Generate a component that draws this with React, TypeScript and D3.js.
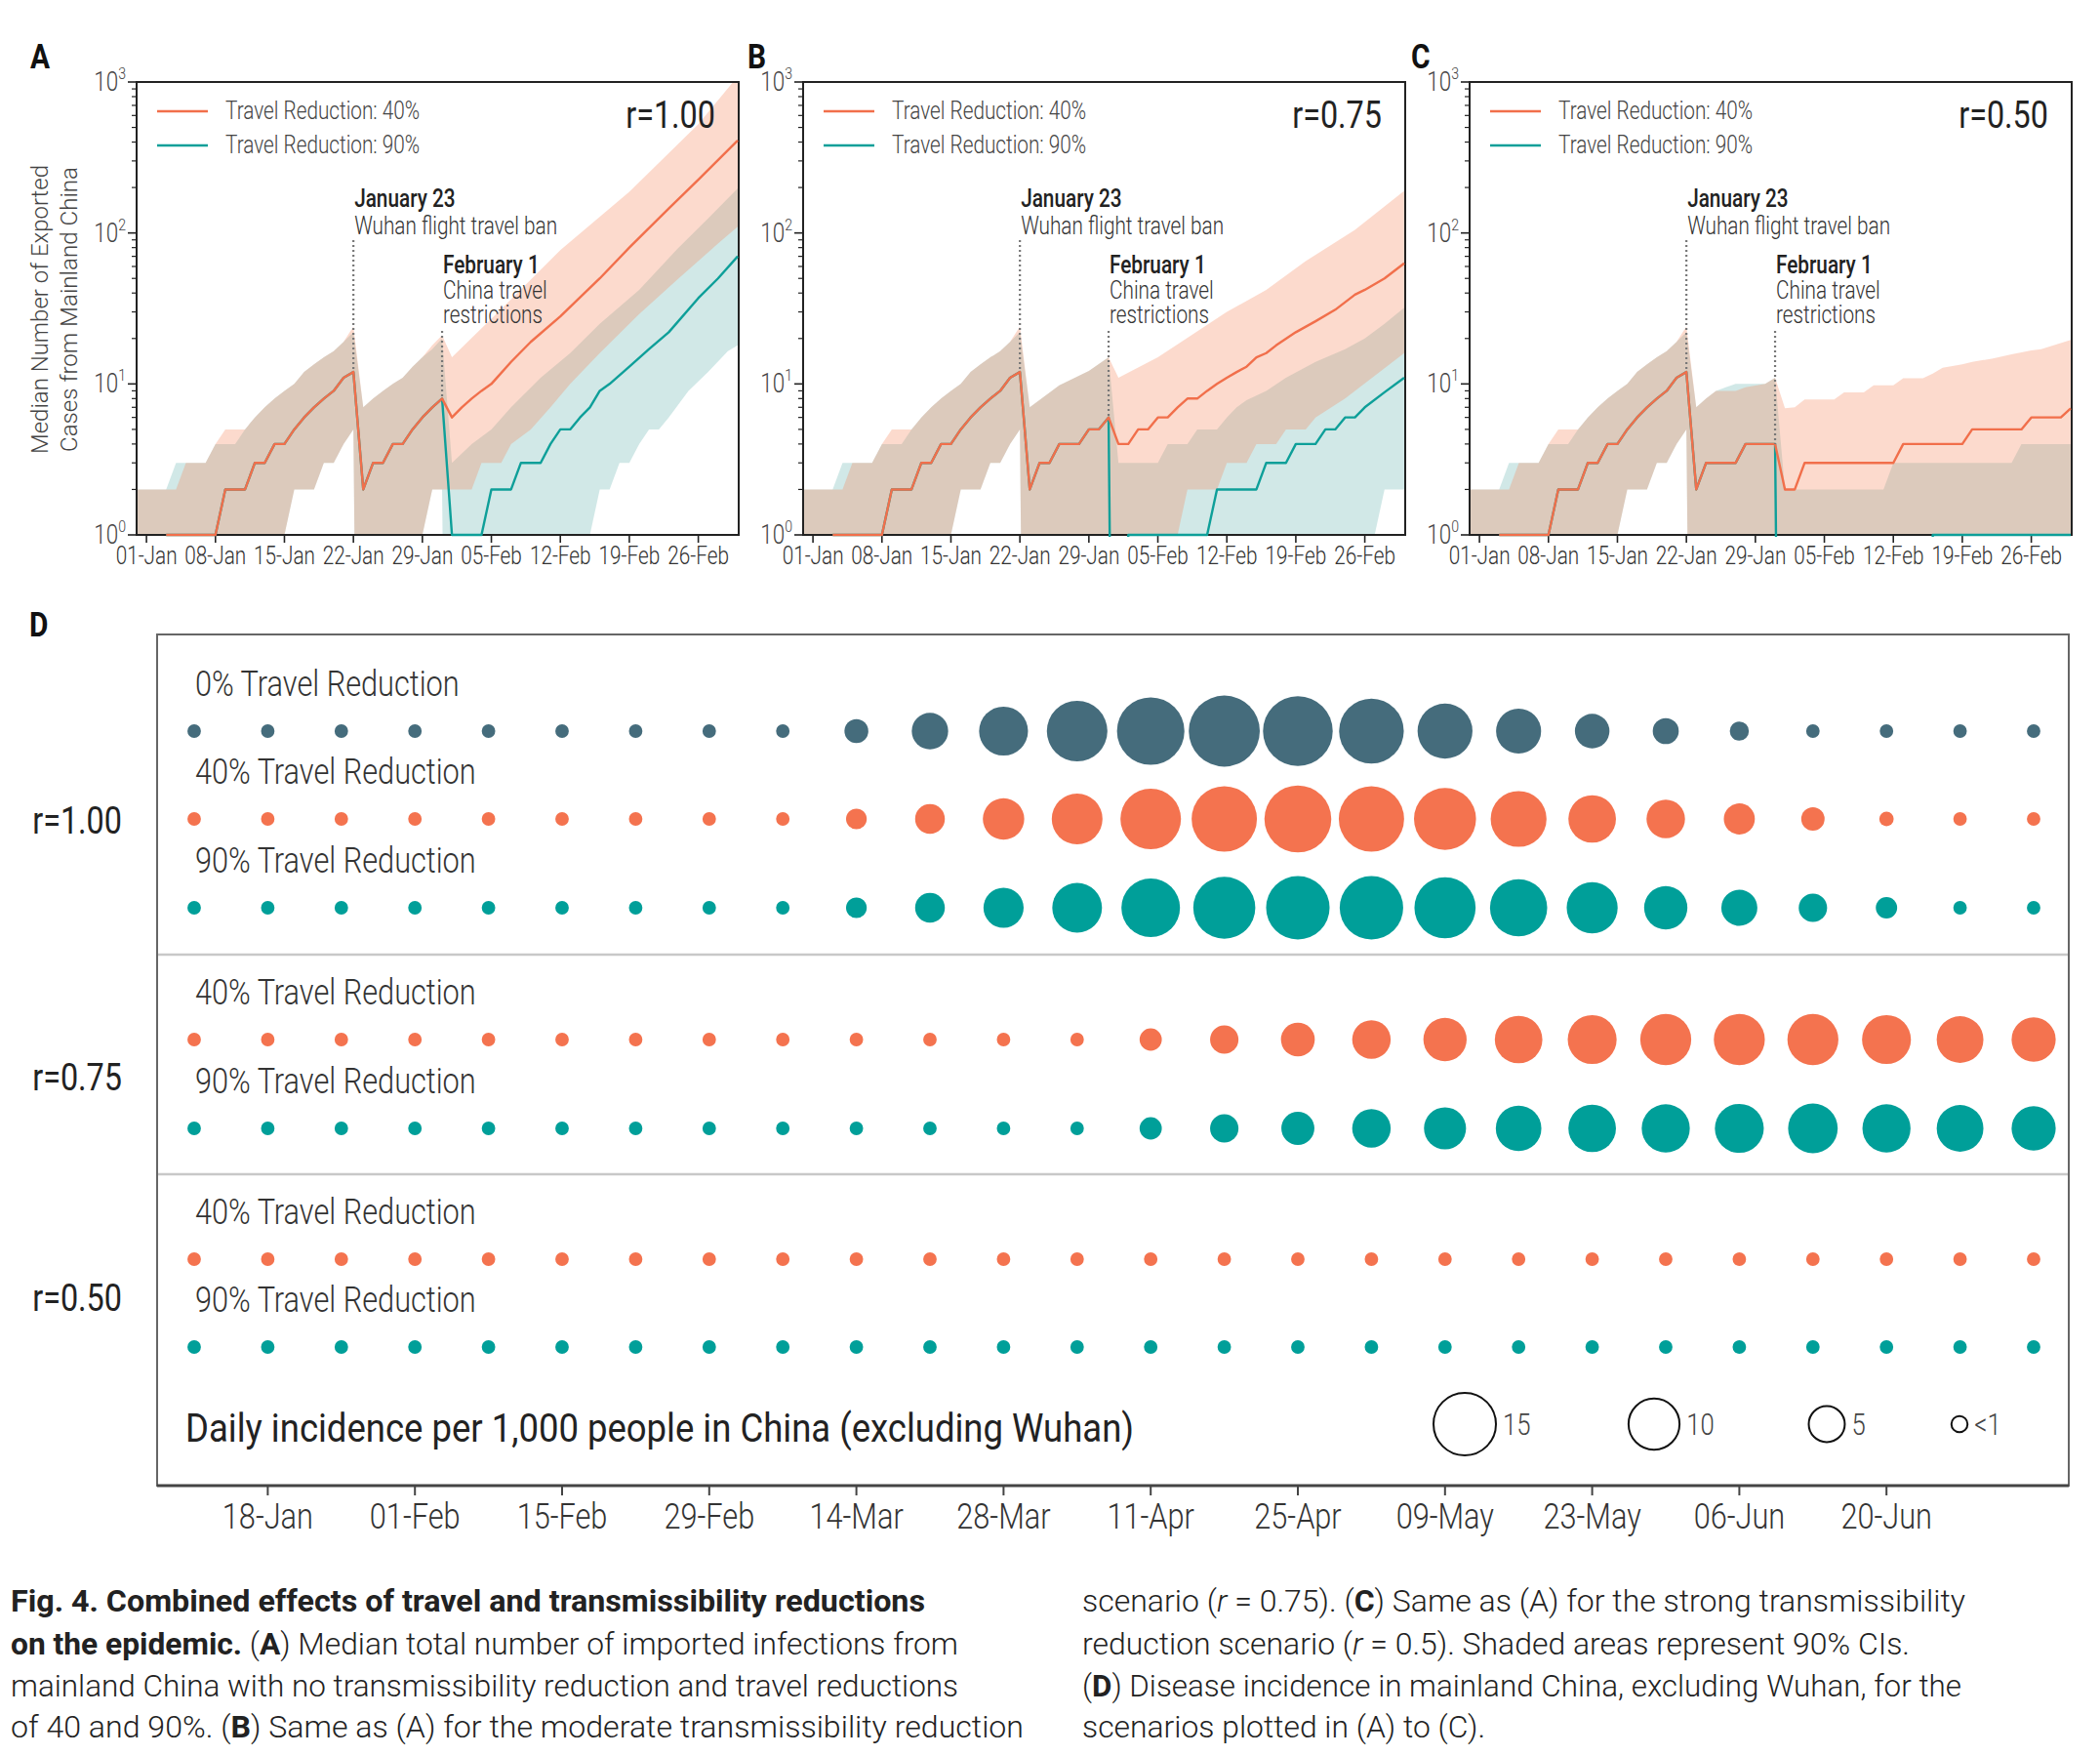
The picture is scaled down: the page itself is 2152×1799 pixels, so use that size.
import React from 'react';
import * as d3 from 'd3';

type Pt = [number, number]; // [day since 01-Jan, value]

// ---------- panels A-C: exported cases ----------
const dayTickDays = [0, 7, 14, 21, 28, 35, 42, 49, 56];
const dayTickLabels = ['01-Jan', '08-Jan', '15-Jan', '22-Jan', '29-Jan', '05-Feb', '12-Feb', '19-Feb', '26-Feb'];

// before the Jan 23 ban the scenarios are identical
const preBanMedian: Pt[] = [[2, 1], [7, 1], [8, 2], [10, 2], [11, 3], [12, 3], [13, 4], [14, 4], [15, 5], [16, 6], [17, 7], [18, 8], [19, 9], [20, 11], [21, 12]];
const preBanUpper40: Pt[] = [[-1, 2], [3, 2], [4, 3], [6, 3], [7, 4], [8, 5], [10, 5], [11, 6], [12, 7], [13, 8], [14, 9], [15, 10], [16, 12], [17, 13.5], [18, 15], [19, 16.5], [20, 19], [21, 24]];
const preBanUpper90: Pt[] = [[-1, 2], [2, 2], [3, 3], [6, 3], [7, 4], [9, 4], [10, 5], [11, 6], [12, 7], [13, 8], [14, 9], [15, 10], [16, 12], [17, 13.5], [18, 15], [19, 16.5], [20, 19], [21, 22]];
const preBanLower: Pt[] = [[-1, 0], [13, 0], [14, 1], [15, 2], [17, 2], [18, 3], [19, 3], [20, 4], [21, 5]];

// A: r = 1.00
const medianA40: Pt[] = [...preBanMedian, [22, 2], [23, 3], [24, 3], [25, 4], [26, 4], [27, 5], [28, 6], [29, 7], [30, 8], [31, 6], [32, 7], [33, 8], [34, 9], [35, 10], [37, 14], [39, 19], [42, 28], [46, 50], [49, 80], [53, 145], [56, 225], [60, 410]];
const medianA90: Pt[] = [...preBanMedian, [22, 2], [23, 3], [24, 3], [25, 4], [26, 4], [27, 5], [28, 6], [29, 7], [30, 8], [31, 1], [34, 1], [35, 2], [37, 2], [38, 3], [40, 3], [41, 4], [42, 5], [43, 5], [44, 6], [45, 7], [46, 9], [47, 10], [49, 13], [51, 17], [53, 22], [56, 37], [58, 50], [60, 70]];
const upperA40: Pt[] = [...preBanUpper40, [22, 7], [23, 8], [24, 9], [25, 10], [26, 11], [27, 13], [28, 15], [29, 18], [30, 21], [31, 15], [35, 27], [42, 77], [49, 187], [56, 525], [60, 1090]];
const upperA90: Pt[] = [...preBanUpper90, [22, 7], [23, 8], [24, 9], [25, 10], [26, 11], [27, 13], [28, 15], [29, 17], [30, 20], [31, 3], [33, 4], [35, 5], [37, 7], [40, 11], [43, 16], [46, 25], [50, 42], [54, 80], [57, 125], [60, 197]];
const lowerA40: Pt[] = [...preBanLower, [22, 0], [28, 1], [29, 2], [33, 2], [34, 3], [36, 3], [37, 4], [39, 5], [41, 7], [43, 10], [46, 16], [50, 29], [54, 50], [58, 85], [60, 110]];
const lowerA90: Pt[] = [...preBanLower, [22, 0], [28, 1], [29, 2], [30, 2], [31, 0], [44, 0], [45, 1], [46, 2], [47, 2], [48, 3], [49, 3], [50, 4], [51, 5], [52, 5], [53, 6], [55, 9], [57, 12], [59, 16.5], [60, 18]];

// B: r = 0.75
const medianB40: Pt[] = [...preBanMedian, [22, 2], [23, 3], [24, 3], [25, 4], [27, 4], [28, 5], [29, 5], [30, 6], [31, 4], [32, 4], [33, 5], [34, 5], [35, 6], [36, 6], [37, 7], [38, 8], [39, 8], [40, 9], [41, 10], [42, 11], [43, 12], [44, 13], [45, 15], [46, 16], [47, 18], [49, 22], [51, 26], [53, 31], [55, 39], [56, 42], [58, 50], [60, 63]];
const medianB90: Pt[] = [...preBanMedian, [22, 2], [23, 3], [24, 3], [25, 4], [27, 4], [28, 5], [29, 5], [30, 6], [31, 0], [32, 1], [40, 1], [41, 2], [45, 2], [46, 3], [48, 3], [49, 4], [51, 4], [52, 5], [53, 5], [54, 6], [55, 6], [56, 7], [58, 8.8], [60, 11]];
const upperB40: Pt[] = [...preBanUpper40, [22, 7], [25, 9.8], [28, 12.2], [30, 15], [31, 11], [35, 15], [37, 18.3], [42, 30], [46, 42], [50, 65], [55, 105], [60, 190]];
const upperB90: Pt[] = [...preBanUpper90, [22, 7], [25, 9.8], [28, 12.2], [30, 15], [31, 3], [35, 3], [36, 4], [38, 4], [39, 5], [41, 5], [42, 6], [43, 7], [44, 7.8], [46, 9], [48, 11], [51, 14], [54, 17], [56, 20], [58, 25], [60, 32]];
const lowerB40: Pt[] = [...preBanLower, [22, 0], [36, 0], [37, 1], [38, 2], [41, 2], [42, 3], [44, 3], [45, 4], [47, 4], [48, 5], [50, 5], [51, 6], [54, 8], [57, 11.3], [60, 16]];
const lowerB90: Pt[] = [...preBanLower, [22, 0], [56, 0], [57, 1], [58, 2], [60, 2]];

// C: r = 0.50
const medianC40: Pt[] = [...preBanMedian, [22, 2], [23, 3], [26, 3], [27, 4], [30, 4], [31, 2], [32, 2], [33, 3], [42, 3], [43, 4], [49, 4], [50, 5], [55, 5], [56, 6], [59, 6], [60, 6.9]];
const medianC90: Pt[] = [...preBanMedian, [22, 2], [23, 3], [26, 3], [27, 4], [30, 4], [31, 0], [45, 0], [46, 1], [60, 1]];
const upperC40: Pt[] = [...preBanUpper40, [22, 7], [23, 8], [24, 9], [26, 9], [27, 9.5], [29, 10], [30, 11], [31, 6.9], [32, 7], [33, 7.9], [36, 7.9], [37, 8.8], [39, 8.8], [40, 9.8], [42, 9.8], [43, 10.9], [45, 10.9], [46, 11.7], [47, 12.8], [49, 13.5], [50, 14], [52, 14.7], [54, 15.7], [56, 16.7], [57, 17], [60, 19.6]];
const upperC90: Pt[] = [...preBanUpper90, [22, 7], [23, 8], [24, 9], [25, 9.5], [26, 10], [29, 10], [30, 11], [31, 2], [41, 2], [42, 3], [54, 3], [55, 4], [60, 4]];
const lowerC40: Pt[] = [...preBanLower, [22, 0], [60, 0]];
const lowerC90: Pt[] = [...preBanLower, [22, 0], [60, 0]];

interface PanelData {
  letter: string;
  r: string;
  med40: Pt[]; med90: Pt[];
  lo40: Pt[]; hi40: Pt[];
  lo90: Pt[]; hi90: Pt[];
}

const panels: PanelData[] = [
  { letter: 'A', r: 'r=1.00', med40: medianA40, med90: medianA90, lo40: lowerA40, hi40: upperA40, lo90: lowerA90, hi90: upperA90 },
  { letter: 'B', r: 'r=0.75', med40: medianB40, med90: medianB90, lo40: lowerB40, hi40: upperB40, lo90: lowerB90, hi90: upperB90 },
  { letter: 'C', r: 'r=0.50', med40: medianC40, med90: medianC90, lo40: lowerC40, hi40: upperC40, lo90: lowerC90, hi90: upperC90 },
];

const legendLabels = ['Travel Reduction: 40%', 'Travel Reduction: 90%'];

// ---------- panel D: weekly incidence per 1,000 ----------
const weekLabels = ['11-Jan', '18-Jan', '25-Jan', '01-Feb', '08-Feb', '15-Feb', '22-Feb', '29-Feb', '07-Mar', '14-Mar', '21-Mar', '28-Mar', '04-Apr', '11-Apr', '18-Apr', '25-Apr', '02-May', '09-May', '16-May', '23-May', '30-May', '06-Jun', '13-Jun', '20-Jun', '27-Jun', '04-Jul'];
const dTickLabels = ['18-Jan', '01-Feb', '15-Feb', '29-Feb', '14-Mar', '28-Mar', '11-Apr', '25-Apr', '09-May', '23-May', '06-Jun', '20-Jun'];

const incR100T0 = [0.7, 0.7, 0.7, 0.7, 0.7, 0.7, 0.7, 0.7, 0.7, 2.2, 5.1, 9.2, 14.1, 17.5, 19.4, 18.7, 16.1, 11.6, 7.8, 4.6, 2.6, 1.4, 0.7, 0.7, 0.7, 0.7];
const incR100T40 = [0.7, 0.7, 0.7, 0.7, 0.7, 0.7, 0.7, 0.7, 0.7, 1.65, 3.4, 6.6, 9.9, 14.1, 16.4, 17.2, 16.4, 14.8, 12.0, 8.7, 5.7, 3.7, 2.1, 0.8, 0.7, 0.7];
const incR100T90 = [0.7, 0.7, 0.7, 0.7, 0.7, 0.7, 0.7, 0.7, 0.7, 1.65, 3.4, 6.2, 9.5, 13.2, 14.8, 15.5, 15.5, 14.4, 12.6, 10.0, 7.2, 5.0, 3.1, 1.75, 0.7, 0.7];
const incR075T40 = [0.7, 0.7, 0.7, 0.7, 0.7, 0.7, 0.7, 0.7, 0.7, 0.7, 0.7, 0.7, 0.7, 1.9, 3.1, 4.4, 5.7, 7.2, 8.7, 9.2, 10.0, 10.0, 10.0, 9.2, 8.4, 7.5];
const incR075T90 = [0.7, 0.7, 0.7, 0.7, 0.7, 0.7, 0.7, 0.7, 0.7, 0.7, 0.7, 0.7, 0.7, 1.9, 3.1, 4.2, 5.7, 6.8, 8.0, 8.7, 8.9, 9.2, 9.45, 8.9, 8.4, 7.5];
const incR050T40 = [0.7, 0.7, 0.7, 0.7, 0.7, 0.7, 0.7, 0.7, 0.7, 0.7, 0.7, 0.7, 0.7, 0.7, 0.7, 0.7, 0.7, 0.7, 0.7, 0.7, 0.7, 0.7, 0.7, 0.7, 0.7, 0.7];
const incR050T90 = [0.7, 0.7, 0.7, 0.7, 0.7, 0.7, 0.7, 0.7, 0.7, 0.7, 0.7, 0.7, 0.7, 0.7, 0.7, 0.7, 0.7, 0.7, 0.7, 0.7, 0.7, 0.7, 0.7, 0.7, 0.7, 0.7];

const sizeLegendValues = [15, 10, 5, 1];
const sizeLegendLabels = ['15', '10', '5', '<1'];

// ---------- styles / layout ----------
const W = 2152;
const H = 1799;
const COND = "Roboto, 'Liberation Sans', sans-serif"; // squeezed horizontally to look condensed
const SQ = 0.83;
const ORANGE = '#f16f4b';
const TEAL = '#0e9f99';
const SLATE = '#456c7c';
const DOT_ORANGE = '#f4734f';
const DOT_TEAL = '#009f99';

const PANEL = { top: 84, bottom: 548, width: 617, lefts: [140, 823, 1506], letterX: [31, 766, 1446] };

// condensed text: text squeezed around its anchor point
function CText(props: {
  x: number; y: number; size: number; anchor?: string; weight?: number | string; fill?: string;
  children: React.ReactNode;
}) {
  const { x, y, size, anchor = 'start', weight = 400, fill = '#222', children } = props;
  return (
    <text transform={`translate(${x},${y}) scale(${SQ},1)`} textAnchor={anchor} fontFamily={COND} fontSize={size} fontWeight={weight} fill={fill}>
      {children}
    </text>
  );
}

function CasesPanel({ panel, left, letterX }: { panel: PanelData; left: number; letterX: number }) {
  const { top, bottom, width } = PANEL;
  const x = d3.scaleLinear().domain([-1, 60.1]).range([left, left + width]);
  const y = d3.scaleLog().domain([1, 1000]).range([bottom, top]);
  const yv = (v: number) => y(Math.max(v, 1e-6));
  const line = d3.line<Pt>().x((d) => x(d[0])).y((d) => yv(d[1]));
  const band = (lo: Pt[], hi: Pt[]) => line([...hi, ...lo.slice().reverse()]) + 'Z';
  const valueAt = (s: Pt[], day: number) => (s.find((d) => d[0] === day) as Pt)[1];
  const clipId = `clip-${panel.letter}`;
  const clipLineId = `clipline-${panel.letter}`;
  const yTicks = y.ticks();
  const isMajor = (t: number) => Math.abs(Math.log10(t) - Math.round(Math.log10(t))) < 1e-9;

  const events = [
    { day: 21, title: 'January 23', lines: ['Wuhan flight travel ban'], titleY: 212, lineY: 240, dotTop: 246 },
    { day: 30, title: 'February 1', lines: ['China travel', 'restrictions'], titleY: 280, lineY: 306, dotTop: 339 },
  ];

  return (
    <g>
      <defs>
        <clipPath id={clipId}>
          <rect x={left} y={top} width={width} height={bottom - top} />
        </clipPath>
        <clipPath id={clipLineId}>
          <rect x={left} y={top} width={width} height={bottom - top + 2} />
        </clipPath>
      </defs>

      <g clipPath={`url(#${clipId})`}>
        <path d={band(panel.lo90, panel.hi90)} fill="#3a9a96" fillOpacity={0.23} />
        <path d={band(panel.lo40, panel.hi40)} fill="#f5845a" fillOpacity={0.3} />
      </g>

      <rect x={left} y={top} width={width} height={bottom - top} fill="none" stroke="#222" strokeWidth={2} />

      {/* y axis */}
      {yTicks.map((t, i) => (
        <line key={i} x1={left} x2={left - (isMajor(t) ? 9 : 5)} y1={y(t)} y2={y(t)} stroke="#222" strokeWidth={isMajor(t) ? 1.6 : 1.2} />
      ))}
      {yTicks.filter(isMajor).map((t, i) => (
        <CText key={i} x={left - 11} y={y(t) + 9} size={27} anchor="end" weight={300} fill="#444">
          10<tspan dy={-12} fontSize={17}>{Math.round(Math.log10(t))}</tspan>
        </CText>
      ))}

      {/* x axis */}
      {dayTickDays.map((d, i) => (
        <g key={i}>
          <line x1={x(d)} x2={x(d)} y1={bottom} y2={bottom + 8} stroke="#222" strokeWidth={1.6} />
          <CText x={x(d)} y={bottom + 30} size={25} anchor="middle" weight={300} fill="#333">
            {dayTickLabels[i]}
          </CText>
        </g>
      ))}

      {/* medians */}
      <g clipPath={`url(#${clipLineId})`} fill="none" strokeWidth={2.4} strokeLinejoin="round">
        <path d={line(panel.med90) as string} stroke={TEAL} />
        <path d={line(panel.med40) as string} stroke={ORANGE} />
      </g>

      {/* event annotations */}
      {events.map((e, i) => (
        <g key={i}>
          <line x1={x(e.day)} x2={x(e.day)} y1={e.dotTop} y2={yv(valueAt(panel.med40, e.day))} stroke="#777" strokeWidth={2.2} strokeDasharray="2 3" />
          <CText x={x(e.day) + 1} y={e.titleY} size={25} weight={500} fill="#222">{e.title}</CText>
          {e.lines.map((l, j) => (
            <CText key={j} x={x(e.day) + 1} y={e.lineY + j * 25} size={25} weight={300} fill="#333">{l}</CText>
          ))}
        </g>
      ))}

      {/* legend */}
      {legendLabels.map((l, i) => (
        <g key={i}>
          <line x1={left + 21} x2={left + 73} y1={114 + i * 35} y2={114 + i * 35} stroke={i === 0 ? ORANGE : TEAL} strokeWidth={2.4} />
          <CText x={left + 91} y={122 + i * 35} size={25} weight={300} fill="#444">{l}</CText>
        </g>
      ))}
      <CText x={left + width - 24} y={131} size={39} anchor="end" weight={400} fill="#222">{panel.r}</CText>

      <CText x={letterX} y={70} size={36} weight={700} fill="#111">{panel.letter}</CText>
    </g>
  );
}

function IncidencePanel() {
  const frame = { left: 161, right: 2120, top: 650, bottom: 1522 };
  const x = d3.scalePoint<string>().domain(weekLabels).range([199, 2084]);
  const r = d3.scaleSqrt().domain([0, 15]).range([0, 32]);

  const rows = [
    { label: '0% Travel Reduction', values: incR100T0, color: SLATE, y: 749 },
    { label: '40% Travel Reduction', values: incR100T40, color: DOT_ORANGE, y: 839 },
    { label: '90% Travel Reduction', values: incR100T90, color: DOT_TEAL, y: 930 },
    { label: '40% Travel Reduction', values: incR075T40, color: DOT_ORANGE, y: 1065 },
    { label: '90% Travel Reduction', values: incR075T90, color: DOT_TEAL, y: 1156 },
    { label: '40% Travel Reduction', values: incR050T40, color: DOT_ORANGE, y: 1290 },
    { label: '90% Travel Reduction', values: incR050T90, color: DOT_TEAL, y: 1380 },
  ];
  const groups = [
    { label: 'r=1.00', y: 854 },
    { label: 'r=0.75', y: 1117 },
    { label: 'r=0.50', y: 1343 },
  ];
  const separators = [978, 1203];
  const legendCx = [1501, 1695, 1872, 2008];
  const legendCy = 1459;

  return (
    <g>
      <CText x={30} y={652} size={36} weight={700} fill="#111">D</CText>
      <rect x={frame.left} y={frame.top} width={frame.right - frame.left} height={frame.bottom - frame.top} fill="none" stroke="#666" strokeWidth={2} />
      {separators.map((s, i) => (
        <line key={i} x1={frame.left + 1} x2={frame.right - 1} y1={s} y2={s} stroke="#c8c8c8" strokeWidth={2.5} />
      ))}
      <line x1={frame.left} x2={frame.right} y1={frame.bottom} y2={frame.bottom} stroke="#444" strokeWidth={3} />

      {groups.map((g, i) => (
        <CText key={i} x={125} y={g.y} size={39} anchor="end" weight={400} fill="#222">{g.label}</CText>
      ))}

      {rows.map((row, i) => (
        <g key={i}>
          <CText x={200} y={row.y - 36} size={37} weight={300} fill="#333">{row.label}</CText>
          {row.values.map((v, j) => (
            <circle key={j} cx={x(weekLabels[j]) as number} cy={row.y} r={r(v)} fill={row.color} />
          ))}
        </g>
      ))}

      <text x={190} y={1477} fontFamily={COND} fontSize={40} fill="#222" textLength={972} lengthAdjust="spacingAndGlyphs">
        Daily incidence per 1,000 people in China (excluding Wuhan)
      </text>

      {sizeLegendValues.map((v, i) => (
        <g key={i}>
          <circle cx={legendCx[i]} cy={legendCy} r={r(v)} fill="none" stroke="#111" strokeWidth={2} />
          <CText x={legendCx[i] + r(v) + 7} y={legendCy + 11} size={31} weight={300} fill="#444">{sizeLegendLabels[i]}</CText>
        </g>
      ))}

      {dTickLabels.map((l, i) => (
        <g key={i}>
          <line x1={x(l) as number} x2={x(l) as number} y1={frame.bottom} y2={frame.bottom + 10} stroke="#444" strokeWidth={2} />
          <CText x={x(l) as number} y={1566} size={37} anchor="middle" weight={300} fill="#333">{l}</CText>
        </g>
      ))}
    </g>
  );
}

type Seg = [string, 'b' | 'i' | 'n'];
const captionLeft: { segs: Seg[]; w: number }[] = [
  { segs: [['Fig. 4. Combined effects of travel and transmissibility reductions', 'b']], w: 937 },
  { segs: [['on the epidemic.', 'b'], [' (', 'n'], ['A', 'b'], [') Median total number of imported infections from', 'n']], w: 971 },
  { segs: [['mainland China with no transmissibility reduction and travel reductions', 'n']], w: 971 },
  { segs: [['of 40 and 90%. (', 'n'], ['B', 'b'], [') Same as (A) for the moderate transmissibility reduction', 'n']], w: 1038 },
];
const captionRight: { segs: Seg[]; w: number }[] = [
  { segs: [['scenario (', 'n'], ['r', 'i'], [' = 0.75). (', 'n'], ['C', 'b'], [') Same as (A) for the strong transmissibility', 'n']], w: 905 },
  { segs: [['reduction scenario (', 'n'], ['r', 'i'], [' = 0.5). Shaded areas represent 90% CIs.', 'n']], w: 848 },
  { segs: [['(', 'n'], ['D', 'b'], [') Disease incidence in mainland China, excluding Wuhan, for the', 'n']], w: 901 },
  { segs: [['scenarios plotted in (A) to (C).', 'n']], w: 413 },
];
const captionBaselines = [1651, 1695, 1738, 1780];

function Caption() {
  const col = (lines: { segs: Seg[]; w: number }[], x0: number) =>
    lines.map((ln, i) => (
      <text key={i} x={x0} y={captionBaselines[i]} fontFamily={COND} fontSize={32} fill="#222" textLength={ln.w} lengthAdjust="spacingAndGlyphs">
        {ln.segs.map(([t, s], j) => (
          <tspan key={j} fontWeight={s === 'b' ? 700 : 300} fontStyle={s === 'i' ? 'italic' : 'normal'}>{t}</tspan>
        ))}
      </text>
    ));
  return (
    <g>
      {col(captionLeft, 11)}
      {col(captionRight, 1109)}
    </g>
  );
}

export default function App() {
  return (
    <div style={{ position: 'absolute', left: 0, top: 0 }}>
      <svg width={W} height={H} style={{ display: 'block', background: '#fff' }}>
        <text transform="translate(49,317) rotate(-90)" textAnchor="middle" fontFamily={COND} fontWeight={300} fontSize={24} fill="#444" textLength={296} lengthAdjust="spacingAndGlyphs">
          Median Number of Exported
        </text>
        <text transform="translate(79,317) rotate(-90)" textAnchor="middle" fontFamily={COND} fontWeight={300} fontSize={24} fill="#444" textLength={292} lengthAdjust="spacingAndGlyphs">
          Cases from Mainland China
        </text>
        {panels.map((p, i) => (
          <CasesPanel key={p.letter} panel={p} left={PANEL.lefts[i]} letterX={PANEL.letterX[i]} />
        ))}
        <IncidencePanel />
        <Caption />
      </svg>
    </div>
  );
}
